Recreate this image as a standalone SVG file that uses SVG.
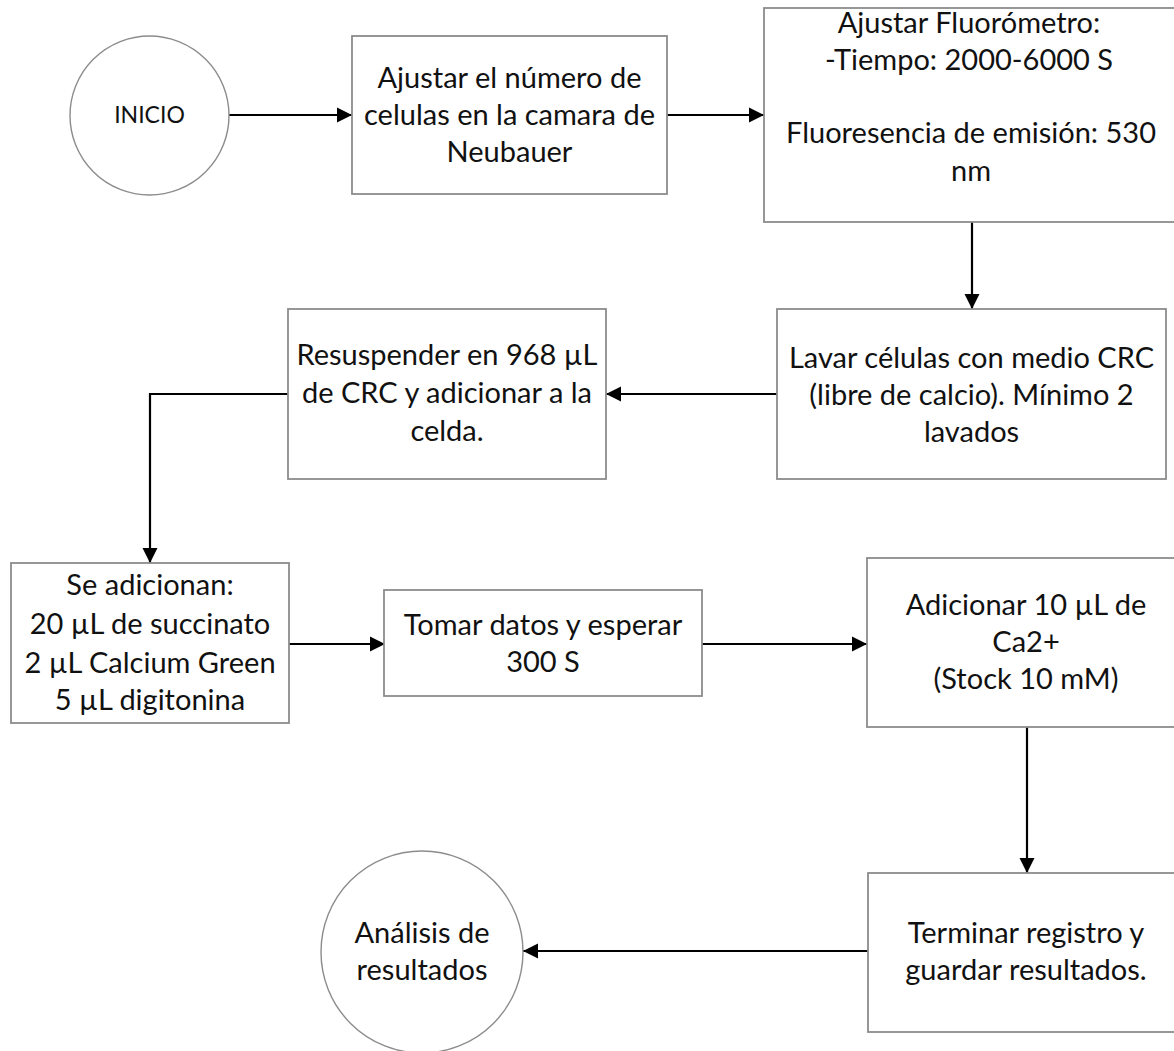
<svg xmlns="http://www.w3.org/2000/svg" width="1174" height="1051" viewBox="0 0 1174 1051">
  <style>
    .box { fill: #ffffff; stroke: #8c8c8c; stroke-width: 1.8; }
    .term { fill: #ffffff; stroke: #8c8c8c; stroke-width: 1.4; }
    .lbl { font-family: Lato, "Open Sans", sans-serif; font-size: 29px; fill: #111111; text-anchor: middle; }
    .small { font-size: 23px; }
    .edge { fill: none; stroke: #000000; stroke-width: 2.2; }
  </style>
  <defs>
    <marker id="arrow" markerWidth="7" markerHeight="7" refX="7" refY="3.5" orient="auto" markerUnits="strokeWidth">
      <path d="M0,0 L7,3.5 L0,7 Z" fill="#000000"/>
    </marker>
  </defs>
  <rect width="1174" height="1051" fill="#ffffff"/>

  <!-- connectors -->
  <g id="connectors">
    <line class="edge" x1="229" y1="115" x2="352" y2="115" marker-end="url(#arrow)"/>
    <line class="edge" x1="667" y1="115" x2="764" y2="115" marker-end="url(#arrow)"/>
    <line class="edge" x1="972" y1="222" x2="972" y2="309" marker-end="url(#arrow)"/>
    <line class="edge" x1="777" y1="394" x2="606" y2="394" marker-end="url(#arrow)"/>
    <polyline class="edge" points="288,394 150,394 150,563" marker-end="url(#arrow)"/>
    <line class="edge" x1="289" y1="644" x2="385" y2="644" marker-end="url(#arrow)"/>
    <line class="edge" x1="702" y1="644" x2="867" y2="644" marker-end="url(#arrow)"/>
    <line class="edge" x1="1027" y1="727" x2="1027" y2="873" marker-end="url(#arrow)"/>
    <line class="edge" x1="868" y1="951" x2="523" y2="951" marker-end="url(#arrow)"/>
  </g>

  <!-- start -->
  <g id="inicio">
    <circle class="term" cx="149.5" cy="115.5" r="79.5"/>
    <text class="lbl small" x="149.5" y="123">INICIO</text>
  </g>

  <g id="ajustar-celulas">
    <rect class="box" x="352" y="36" width="315" height="158"/>
    <text class="lbl" x="509.5" y="88">Ajustar el número de</text>
    <text class="lbl" x="509.5" y="125">celulas en la camara de</text>
    <text class="lbl" x="509.5" y="162">Neubauer</text>
  </g>

  <g id="ajustar-fluorometro">
    <rect class="box" x="764" y="8" width="414" height="214"/>
    <text class="lbl" x="969" y="33">Ajustar Fluorómetro:</text>
    <text class="lbl" x="969" y="70">-Tiempo: 2000-6000 S</text>
    <text class="lbl" x="971" y="143">Fluoresencia de emisión: 530</text>
    <text class="lbl" x="971" y="181">nm</text>
  </g>

  <g id="lavar">
    <rect class="box" x="777" y="309" width="389" height="170"/>
    <text class="lbl" x="971.5" y="368">Lavar células con medio CRC</text>
    <text class="lbl" x="971.5" y="405">(libre de calcio). Mínimo 2</text>
    <text class="lbl" x="971.5" y="442">lavados</text>
  </g>

  <g id="resuspender">
    <rect class="box" x="288" y="309" width="318" height="170"/>
    <text class="lbl" x="447" y="365">Resuspender en 968 µL</text>
    <text class="lbl" x="447" y="403">de CRC y adicionar a la</text>
    <text class="lbl" x="447" y="441">celda.</text>
  </g>

  <g id="adicionan">
    <rect class="box" x="11" y="563" width="278" height="160"/>
    <text class="lbl" x="150" y="595">Se adicionan:</text>
    <text class="lbl" x="150" y="634">20 µL de succinato</text>
    <text class="lbl" x="150" y="673">2 µL Calcium Green</text>
    <text class="lbl" x="150" y="710">5 µL digitonina</text>
  </g>

  <g id="tomar-datos">
    <rect class="box" x="384" y="590" width="318" height="106"/>
    <text class="lbl" x="543" y="635">Tomar datos y esperar</text>
    <text class="lbl" x="543" y="672">300 S</text>
  </g>

  <g id="adicionar-calcio">
    <rect class="box" x="867" y="558" width="320" height="169"/>
    <text class="lbl" x="1026" y="615">Adicionar 10 µL de</text>
    <text class="lbl" x="1026" y="652">Ca2+</text>
    <text class="lbl" x="1026" y="689">(Stock 10 mM)</text>
  </g>

  <g id="terminar">
    <rect class="box" x="868" y="873" width="318" height="159"/>
    <text class="lbl" x="1026" y="943">Terminar registro y</text>
    <text class="lbl" x="1026" y="980">guardar resultados.</text>
  </g>

  <g id="analisis">
    <circle class="term" cx="422" cy="952" r="101"/>
    <text class="lbl" x="422" y="943">Análisis de</text>
    <text class="lbl" x="422" y="980">resultados</text>
  </g>
</svg>
